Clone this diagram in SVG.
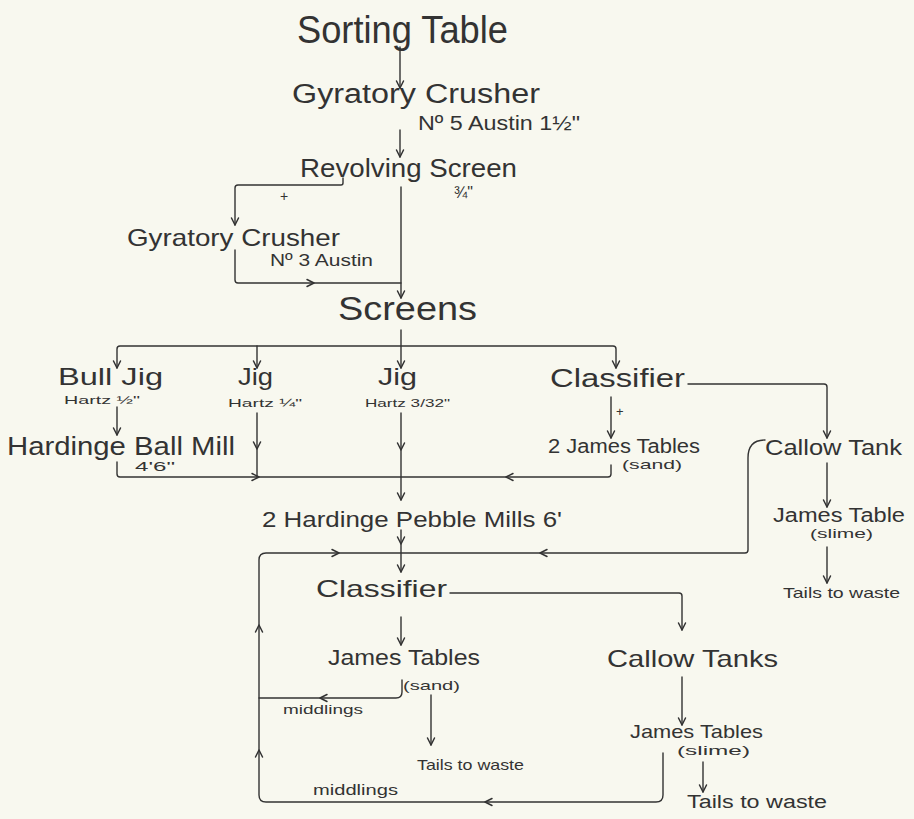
<svg xmlns="http://www.w3.org/2000/svg" xmlns:xlink="http://www.w3.org/1999/xlink" width="914" height="819" viewBox="0 0 914 819">
<style>
text{font-family:"Liberation Sans","DejaVu Sans",sans-serif;fill:#333;}
.ln{fill:none;stroke:#333;stroke-width:1.4;stroke-linecap:round;stroke-linejoin:round;}
.ah{fill:none;stroke:#333;stroke-width:1.5;stroke-linecap:round;stroke-linejoin:round;}
</style>
<defs>
<path id="chev" d="M-7,-3.5 L0,0 L-7,3.5"/>
</defs>
<rect width="914" height="819" fill="#f8f8ef"/>

<g id="connectors">
<path class="ln" d="M400,47 V88"/>
<path class="ln" d="M400,130 V157"/>
<path class="ln" d="M343,178 V183 Q343,185 341,185 H238 Q235,185 235,188 V225"/>
<path class="ln" d="M401,187 V298"/>
<path class="ln" d="M235,250 V280 Q235,283 238,283 H401"/>
<path class="ln" d="M401,330 V368"/>
<path class="ln" d="M117,368 V349 Q117,346 120,346 H613 Q616,346 616,349 V368"/>
<path class="ln" d="M257,346 V368"/>
<path class="ln" d="M117,407 V435"/>
<path class="ln" d="M117,462 V474 Q117,477 120,477 H608 Q611,477 611,474 V465"/>
<path class="ln" d="M257,413 V477"/>
<path class="ln" d="M401,413 V500"/>
<path class="ln" d="M611,397 V438"/>
<path class="ln" d="M688,384 H824 Q827,384 827,387 V438"/>
<path class="ln" d="M827,463 V507"/>
<path class="ln" d="M827,547 V583"/>
<path class="ln" d="M765,440 Q748,440 748,458 V550 Q748,553 745,553 H266 Q259,553 259,560 V795 Q259,802 266,802 H656 Q663,802 663,795 V753"/>
<path class="ln" d="M401,530 V572"/>
<path class="ln" d="M401,617 V645"/>
<path class="ln" d="M450,593 H679 Q682,593 682,596 V630"/>
<path class="ln" d="M682,677 V725"/>
<path class="ln" d="M703,762 V792"/>
<path class="ln" d="M402,680 V692 Q402,698 396,698 H259"/>
<path class="ln" d="M431,695 V745"/>
<g class="ah">
<use xlink:href="#chev" transform="translate(400,88) rotate(90)"/>
<use xlink:href="#chev" transform="translate(400,157) rotate(90)"/>
<use xlink:href="#chev" transform="translate(235,225) rotate(90)"/>
<use xlink:href="#chev" transform="translate(401,298) rotate(90)"/>
<use xlink:href="#chev" transform="translate(314,283)"/>
<use xlink:href="#chev" transform="translate(117,368) rotate(90)"/>
<use xlink:href="#chev" transform="translate(257,368) rotate(90)"/>
<use xlink:href="#chev" transform="translate(401,368) rotate(90)"/>
<use xlink:href="#chev" transform="translate(616,368) rotate(90)"/>
<use xlink:href="#chev" transform="translate(117,435) rotate(90)"/>
<use xlink:href="#chev" transform="translate(257,449) rotate(90)"/>
<use xlink:href="#chev" transform="translate(401,450) rotate(90)"/>
<use xlink:href="#chev" transform="translate(259,477)"/>
<use xlink:href="#chev" transform="translate(506,477) rotate(180)"/>
<use xlink:href="#chev" transform="translate(401,500) rotate(90)"/>
<use xlink:href="#chev" transform="translate(611,438) rotate(90)"/>
<use xlink:href="#chev" transform="translate(827,438) rotate(90)"/>
<use xlink:href="#chev" transform="translate(827,507) rotate(90)"/>
<use xlink:href="#chev" transform="translate(827,583) rotate(90)"/>
<use xlink:href="#chev" transform="translate(540,553) rotate(180)"/>
<use xlink:href="#chev" transform="translate(339,553)"/>
<use xlink:href="#chev" transform="translate(401,544) rotate(90)"/>
<use xlink:href="#chev" transform="translate(401,572) rotate(90)"/>
<use xlink:href="#chev" transform="translate(259,625) rotate(270)"/>
<use xlink:href="#chev" transform="translate(259,750) rotate(270)"/>
<use xlink:href="#chev" transform="translate(401,645) rotate(90)"/>
<use xlink:href="#chev" transform="translate(682,630) rotate(90)"/>
<use xlink:href="#chev" transform="translate(682,725) rotate(90)"/>
<use xlink:href="#chev" transform="translate(703,792) rotate(90)"/>
<use xlink:href="#chev" transform="translate(320,698) rotate(180)"/>
<use xlink:href="#chev" transform="translate(431,745) rotate(90)"/>
<use xlink:href="#chev" transform="translate(485,802) rotate(180)"/>
</g>
<text x="280" y="201" font-size="14">+</text>
<text x="616" y="416" font-size="13">+</text>
<text x="283" y="714" font-size="13" textLength="80" lengthAdjust="spacingAndGlyphs">middlings</text>
<text x="313" y="795" font-size="14" textLength="85" lengthAdjust="spacingAndGlyphs">middlings</text>
</g>

<g id="sorting-table"><text x="297" y="43" font-size="38" textLength="211" lengthAdjust="spacingAndGlyphs">Sorting Table</text></g>
<g id="gyratory-crusher-1">
<text x="292" y="103" font-size="27" textLength="248" lengthAdjust="spacingAndGlyphs">Gyratory Crusher</text>
<text x="418" y="130" font-size="20" textLength="162" lengthAdjust="spacingAndGlyphs">Nº 5 Austin 1½"</text>
</g>
<g id="revolving-screen">
<text x="300" y="177" font-size="26" textLength="217" lengthAdjust="spacingAndGlyphs">Revolving Screen</text>
<text x="454" y="198" font-size="16">¾"</text>
</g>
<g id="gyratory-crusher-2">
<text x="127" y="246" font-size="24" textLength="213" lengthAdjust="spacingAndGlyphs">Gyratory Crusher</text>
<text x="270" y="266" font-size="17" textLength="103" lengthAdjust="spacingAndGlyphs">Nº 3 Austin</text>
</g>
<g id="screens"><text x="338" y="320" font-size="34" textLength="139" lengthAdjust="spacingAndGlyphs">Screens</text></g>
<g id="bull-jig">
<text x="58" y="385" font-size="24" textLength="105" lengthAdjust="spacingAndGlyphs">Bull Jig</text>
<text x="64" y="404" font-size="11" textLength="76" lengthAdjust="spacingAndGlyphs">Hartz ½"</text>
</g>
<g id="jig-quarter">
<text x="238" y="385" font-size="24" textLength="35" lengthAdjust="spacingAndGlyphs">Jig</text>
<text x="228" y="407" font-size="11" textLength="74" lengthAdjust="spacingAndGlyphs">Hartz ¼"</text>
</g>
<g id="jig-3-32">
<text x="378" y="385" font-size="24" textLength="39" lengthAdjust="spacingAndGlyphs">Jig</text>
<text x="365" y="407" font-size="11" textLength="85" lengthAdjust="spacingAndGlyphs">Hartz 3/32"</text>
</g>
<g id="classifier-1"><text x="550" y="387" font-size="26" textLength="135" lengthAdjust="spacingAndGlyphs">Classifier</text></g>
<g id="hardinge-ball-mill">
<text x="7" y="455" font-size="26" textLength="228" lengthAdjust="spacingAndGlyphs">Hardinge Ball Mill</text>
<text x="135" y="471" font-size="12" textLength="40" lengthAdjust="spacingAndGlyphs">4'6"</text>
</g>
<g id="james-tables-sand-1">
<text x="548" y="453" font-size="20" textLength="152" lengthAdjust="spacingAndGlyphs">2 James Tables</text>
<text x="622" y="469" font-size="13" textLength="60" lengthAdjust="spacingAndGlyphs">(sand)</text>
</g>
<g id="callow-tank"><text x="765" y="455" font-size="22" textLength="137" lengthAdjust="spacingAndGlyphs">Callow Tank</text></g>
<g id="james-table-slime">
<text x="773" y="522" font-size="20" textLength="132" lengthAdjust="spacingAndGlyphs">James Table</text>
<text x="810" y="538" font-size="13" textLength="63" lengthAdjust="spacingAndGlyphs">(slime)</text>
</g>
<g id="tails-1"><text x="783" y="598" font-size="15" textLength="117" lengthAdjust="spacingAndGlyphs">Tails to waste</text></g>
<g id="pebble-mills"><text x="262" y="527" font-size="22" textLength="300" lengthAdjust="spacingAndGlyphs">2 Hardinge Pebble Mills 6'</text></g>
<g id="classifier-2"><text x="316" y="597" font-size="24" textLength="131" lengthAdjust="spacingAndGlyphs">Classifier</text></g>
<g id="james-tables-sand-2">
<text x="328" y="665" font-size="22" textLength="152" lengthAdjust="spacingAndGlyphs">James Tables</text>
<text x="403" y="690" font-size="13" textLength="57" lengthAdjust="spacingAndGlyphs">(sand)</text>
</g>
<g id="tails-2"><text x="417" y="770" font-size="15" textLength="107" lengthAdjust="spacingAndGlyphs">Tails to waste</text></g>
<g id="callow-tanks"><text x="607" y="667" font-size="24" textLength="171" lengthAdjust="spacingAndGlyphs">Callow Tanks</text></g>
<g id="james-tables-slime">
<text x="630" y="738" font-size="19" textLength="133" lengthAdjust="spacingAndGlyphs">James Tables</text>
<text x="677" y="755" font-size="13" textLength="73" lengthAdjust="spacingAndGlyphs">(slime)</text>
</g>
<g id="tails-3"><text x="687" y="808" font-size="18" textLength="140" lengthAdjust="spacingAndGlyphs">Tails to waste</text></g>
</svg>
